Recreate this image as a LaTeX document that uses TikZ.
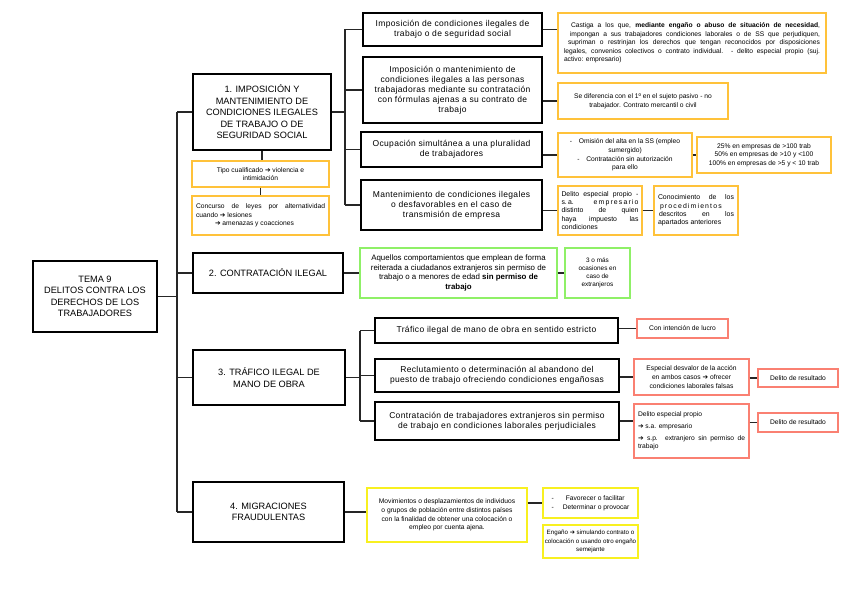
\documentclass[tikz,border=0pt]{standalone}
\usepackage{fontspec}
\setmainfont{Liberation Sans}
\newfontfamily\arrfont{DejaVu Sans}
\newfontfamily\subfam[LetterSpace=4]{Liberation Sans}
\newcommand\myarrow{{\arrfont ➔}}
\definecolor{cOrange}{HTML}{FFC23A}
\definecolor{cGreen}{HTML}{8FF067}
\definecolor{cRed}{HTML}{FA8072}
\definecolor{cYellow}{HTML}{F8F020}
\newcommand\mainf{\fontsize{9.2}{11.5}\selectfont}
\newcommand\subf{\subfam\fontsize{8.5}{10}\selectfont}
\newcommand\smf{\fontsize{6.7}{8.6}\selectfont}
\begin{document}
\begin{tikzpicture}[x=1pt,y=-1pt,
  mainbox/.style={draw=black,line width=2pt,inner sep=0pt,align=center,font=\mainf},
  subbox/.style={draw=black,line width=1.2pt,inner sep=0pt,align=center,font=\subf},
  obox/.style={draw=cOrange,line width=1.3pt,inner sep=0pt,align=center,font=\smf},
  gbox/.style={draw=cGreen,line width=1.3pt,inner sep=0pt,align=center,font=\smf},
  rbox/.style={draw=cRed,line width=1.3pt,inner sep=0pt,align=center,font=\smf},
  ybox/.style={draw=cYellow,line width=1.3pt,inner sep=0pt,align=center,font=\smf},
  conn/.style={draw=black!85,line width=1.5pt},
  sz/.style 2 args={minimum width=#1pt,minimum height=#2pt}]
\fill[white] (0,0) rectangle (848,599);
\useasboundingbox (0,0) rectangle (848,599);

% main column
\node[mainbox,sz={124}{71}] (tema) at (95,296.5) {TEMA 9\\DELITOS CONTRA LOS\\DERECHOS DE LOS\\TRABAJADORES};
\node[mainbox,sz={138}{76}] (m1) at (262,112) {1. IMPOSICIÓN Y\\MANTENIMIENTO DE\\CONDICIONES ILEGALES\\DE TRABAJO O DE\\SEGURIDAD SOCIAL};
\node[mainbox,sz={150}{40}] (m2) at (268,273) {2. CONTRATACIÓN ILEGAL};
\node[mainbox,sz={152}{55}] (m3) at (269,377.5) {3. TRÁFICO ILEGAL DE\\MANO DE OBRA};
\node[mainbox,sz={151}{60}] (m4) at (268.5,512) {4. MIGRACIONES\\FRAUDULENTAS};

\coordinate (trunk) at (177,296.5);
\draw[conn] (tema.east) -- (trunk);
\draw[conn] (trunk |- m1.west) -- (trunk |- m4.west);
\foreach \n in {m1,m2,m3,m4} \draw[conn] (trunk |- \n.west) -- (\n.west);

% orange under box 1
\node[obox,sz={137}{26}] (oa) at (260.5,174) {Tipo cualificado \myarrow\ violencia e\\intimidación};
\node[obox,sz={137}{39},text width=129pt,align=justify] (ob) at (260.5,215.5) {Concurso de leyes por alternatividad\linebreak cuando \myarrow\ lesiones\\\hspace*{19pt}\myarrow\ amenazas y coacciones};
\draw[conn] (m1.south) -- (m1.south |- oa.north);
\draw[conn] (oa.south) -- (ob.north);

% branch 1 sub boxes
\node[subbox,sz={179}{33}] (a) at (452.5,29.5) {Imposición de condiciones ilegales de\\trabajo o de seguridad social};
\node[subbox,sz={179}{66}] (b) at (452.5,90) {Imposición o mantenimiento de\\condiciones ilegales a las personas\\trabajadoras mediante su contratación\\con fórmulas ajenas a su contrato de\\trabajo};
\node[subbox,sz={181}{35}] (c) at (451.5,149.5) {Ocupación simultánea a una pluralidad\\de trabajadores};
\node[subbox,sz={181}{50}] (d) at (451.5,205) {Mantenimiento de condiciones ilegales\\o desfavorables en el caso de\\transmisión de empresa};
\coordinate (t1) at (345,112);
\draw[conn] (m1.east) -- (t1);
\draw[conn] (t1 |- a.west) -- (t1 |- d.west);
\foreach \n in {a,b,c,d} \draw[conn] (t1 |- \n.west) -- (\n.west);

\node[obox,sz={268}{60},text width=256pt,align=justify] (o1) at (692,43) {\hspace*{7pt}Castiga a los que, \textbf{mediante engaño o abuso de situación de necesidad},\linebreak
\hspace*{6pt}impongan a sus trabajadores condiciones laborales o de SS que perjudiquen,\linebreak
\hspace*{4pt}supriman o restrinjan los derechos que tengan reconocidos por disposiciones\linebreak
legales, convenios colectivos o contrato individual. - delito especial propio (suj.\linebreak
activo: empresario)};
\node[obox,sz={170}{36}] (o2) at (643,101) {Se diferencia con el 1º en el sujeto pasivo - no\\trabajador. Contrato mercantil o civil};
\node[obox,sz={134}{44}] (o3) at (625,155) {-\quad Omisión del alta en la SS (empleo\\sumergido)\\-\quad Contratación sin autorización\\para ello};
\node[obox,sz={134}{36}] (o4) at (764,155) {25\% en empresas de >100 trab\\50\% en empresas de >10 y <100\\100\% en empresas de >5 y < 10 trab};
\node[obox,sz={84}{49},text width=77pt,align=justify,font=\fontsize{6.9}{8.2}\selectfont] (o5) at (600,210.5) {Delito especial propio -\linebreak s.\,a.\, e\,m\,p\,r\,e\,s\,a\,r\,i\,o\linebreak distinto de quien\linebreak haya impuesto las\linebreak condiciones};
\node[obox,sz={84}{49},text width=76pt,align=justify,font=\fontsize{6.9}{8.2}\selectfont] (o6) at (696,210.5) {Conocimiento de los\linebreak\hspace*{2pt}p\,r\,o\,c\,e\,d\,i\,m\,i\,e\,n\,t\,o\,s\linebreak \hspace*{1pt}descritos en los\linebreak apartados anteriores};
\draw[conn] (a.east) -- (a.east -| o1.west);
\draw[conn] (o2.west -| b.east) -- (o2.west);
\draw[conn] (o3.west -| c.east) -- (o3.west);
\draw[conn] (o3.east) -- (o4.west);
\draw[conn] (o5.west -| d.east) -- (o5.west);
\draw[conn] (o5.east) -- (o6.west);

% branch 2
\node[gbox,sz={197}{50},font=\fontsize{7.9}{9.4}\selectfont] (g1) at (458.5,273) {Aquellos comportamientos que emplean de forma\\reiterada a ciudadanos extranjeros sin permiso de\\trabajo o a menores de edad \textbf{sin permiso de}\\\textbf{trabajo}};
\node[gbox,sz={65}{50},font=\fontsize{6.4}{8}\selectfont] (g2) at (597.5,273) {3 o más\\ocasiones en\\caso de\\extranjeros};
\draw[conn] (m2.east) -- (g1.west);
\draw[conn] (g1.east) -- (g2.west);

% branch 3
\node[subbox,sz={243}{25}] (e) at (496.5,330.5) {Tráfico ilegal de mano de obra en sentido estricto};
\node[subbox,sz={244}{33}] (f) at (497,375.5) {Reclutamiento o determinación al abandono del\\puesto de trabajo ofreciendo condiciones engañosas};
\node[subbox,sz={244}{38}] (g) at (497,421) {Contratación de trabajadores extranjeros sin permiso\\de trabajo en condiciones laborales perjudiciales};
\coordinate (t3) at (360,377.5);
\draw[conn] (m3.east) -- (t3);
\draw[conn] (t3 |- e.west) -- (t3 |- g.west);
\foreach \n in {e,f,g} \draw[conn] (t3 |- \n.west) -- (\n.west);

\node[rbox,sz={91}{19}] (r1) at (682.5,328.5) {Con intención de lucro};
\node[rbox,sz={115}{36}] (r2) at (691.5,377) {Especial desvalor de la acción\\en ambos casos \myarrow\ ofrecer\\condiciones laborales falsas};
\node[rbox,sz={80}{18}] (r3) at (798,378) {Delito de resultado};
\node[rbox,sz={115}{54},text width=107pt,align=justify] (r4) at (691.5,431) {Delito especial propio\\[3pt]\myarrow\ s.a. empresario\\[3pt]\myarrow\ s.p. extranjero sin permiso de\linebreak trabajo};
\node[rbox,sz={80}{19}] (r5) at (798,422.5) {Delito de resultado};
\draw[conn] (r1.west -| e.east) -- (r1.west);
\draw[conn] (r2.west -| f.east) -- (r2.west);
\draw[conn] (r3.west -| r2.east) -- (r3.west);
\draw[conn] (g.east) -- (g.east -| r4.west);
\draw[conn] (r5.west -| r4.east) -- (r5.west);

% branch 4
\node[ybox,sz={160}{54}] (y1) at (447,515) {Movimientos o desplazamientos de individuos\\o grupos de población entre distintos países\\con la finalidad de obtener una colocación o\\empleo por cuenta ajena.};
\node[ybox,sz={95}{30},align=left] (y2) at (590.5,503) {-\hspace{12pt}Favorecer o facilitar\\-\hspace{9pt}Determinar o provocar};
\node[ybox,sz={95}{33},font=\fontsize{6.2}{8.2}\selectfont] (y3) at (590.5,541.5) {Engaño \myarrow\ simulando contrato o\\colocación o usando otro engaño\\semejante};
\draw[conn] (m4.east) -- (m4.east -| y1.west);
\draw[conn] (y2.west -| y1.east) -- (y2.west);
\end{tikzpicture}
\end{document}
